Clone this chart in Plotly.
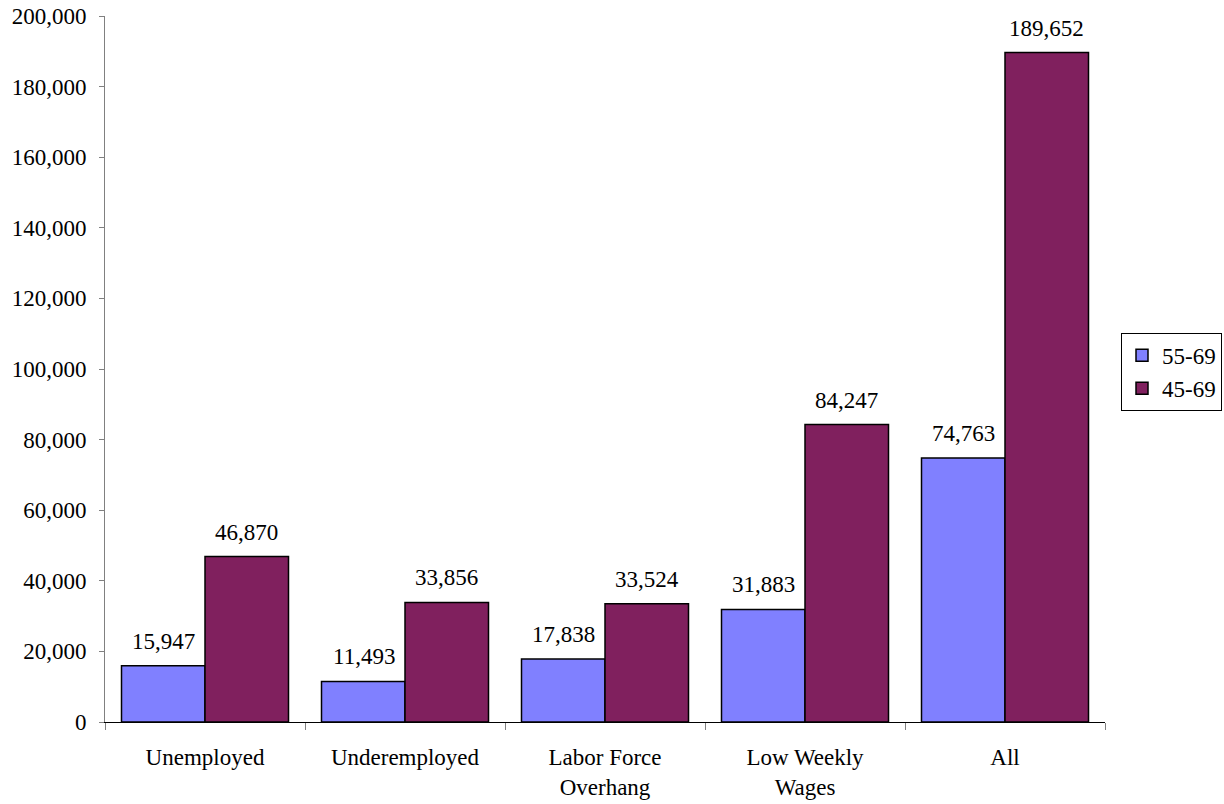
import plotly.graph_objects as go

categories = ["Unemployed", "Underemployed", "Labor Force<br>Overhang", "Low Weekly<br>Wages", "All"]
series_names = ["55-69", "45-69"]
values_55_69 = [15947, 11493, 17838, 31883, 74763]
values_45_69 = [46870, 33856, 33524, 84247, 189652]
y_ticks = [0, 20000, 40000, 60000, 80000, 100000, 120000, 140000, 160000, 180000, 200000]

colors = ["#8080FF", "#80205E"]
FONT = "'Liberation Serif', 'Times New Roman', 'DejaVu Serif', serif"
FS = 23

fig = go.Figure()
for name, vals, col in zip(series_names, [values_55_69, values_45_69], colors):
    fig.add_trace(go.Bar(
        x=categories, y=vals, name=name,
        marker=dict(color=col, line=dict(color="black", width=1.5)),
        hoverinfo="skip",
    ))

annotations = []
for i, vals in enumerate([values_55_69, values_45_69]):
    shift = -41.5 if i == 0 else 41.5
    for c, v in zip(categories, vals):
        annotations.append(dict(
            x=c, y=v, xref="x", yref="y", text=f"{v:,}", showarrow=False,
            xshift=shift, yshift=10, yanchor="bottom",
            font=dict(family=FONT, size=FS, color="black"),
        ))

n = len(categories)
fig.update_layout(
    width=1224, height=804,
    margin=dict(l=105, r=119, t=16, b=82, autoexpand=False),
    paper_bgcolor="white", plot_bgcolor="white",
    barmode="group", bargap=0.165, bargroupgap=0,
    font=dict(family=FONT, size=FS, color="black"),
    showlegend=True,
    legend=dict(x=1.016, xanchor="left", y=0.496, yanchor="middle",
                bordercolor="black", borderwidth=1, bgcolor="white",
                font=dict(family=FONT, size=FS), tracegroupgap=0,
                itemwidth=30),
    annotations=annotations,
    xaxis=dict(type="category", tickson="boundaries", ticks="outside", ticklen=7,
               tickcolor="#808080", showline=True, linecolor="black", linewidth=1,
               showgrid=False, zeroline=False, automargin=False,
               ticklabelstandoff=14,
               tickfont=dict(family=FONT, size=FS)),
    yaxis=dict(range=[0, 200000], tickvals=y_ticks, tickformat=",", ticks="outside",
               ticklen=5, tickcolor="#808080", showline=True, linecolor="#808080",
               linewidth=1, showgrid=False, zeroline=False, automargin=False,
               ticklabelstandoff=8,
               tickfont=dict(family=FONT, size=FS)),
    xaxis2=dict(overlaying="x", anchor="y", range=[-0.5, n - 0.5],
                tickvals=[i - 0.5 for i in range(n + 1)], ticks="inside", ticklen=8,
                tickcolor="#808080", showticklabels=False, showgrid=False,
                zeroline=False, showline=False, side="bottom", automargin=False),
    yaxis2=dict(overlaying="y", anchor="x", range=[0, 200000], tickvals=y_ticks,
                ticks="inside", ticklen=5, tickcolor="#808080", showticklabels=False,
                showgrid=False, zeroline=False, showline=False, side="left",
                automargin=False),
)

fig.write_html("out.html")
